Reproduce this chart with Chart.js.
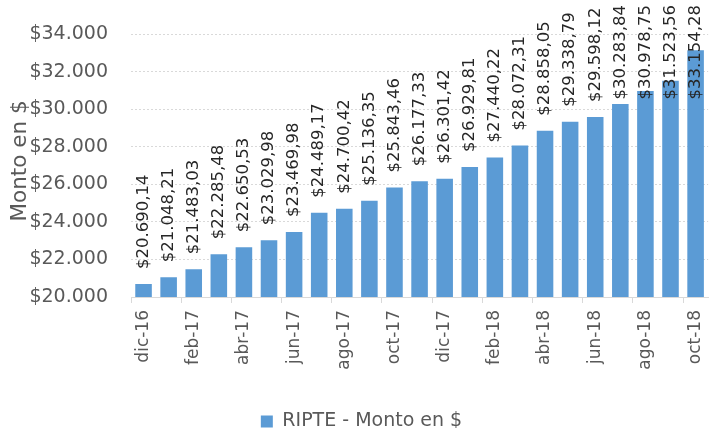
<!DOCTYPE html>
<html>
<head>
<meta charset="utf-8">
<script src="https://cdn.jsdelivr.net/npm/chart.js@4"></script>
<style>
  html, body { margin: 0; padding: 0; background: #fff; }
  #wrap { width: 723px; height: 428px; position: relative; }
</style>
</head>
<body>
<div id="wrap"><canvas id="ripteChart"></canvas></div>
<script>
const months = ["dic-16", "ene-17", "feb-17", "mar-17", "abr-17", "may-17", "jun-17", "jul-17",
    "ago-17", "sep-17", "oct-17", "nov-17", "dic-17", "ene-18", "feb-18", "mar-18",
    "abr-18", "may-18", "jun-18", "jul-18", "ago-18", "sep-18", "oct-18"];
const ripte = [20690.14, 21048.21, 21483.03, 22285.48, 22650.53, 23029.98, 23469.98, 24489.17,
    24700.42, 25136.35, 25843.46, 26177.33, 26301.42, 26929.81, 27440.22, 28072.31,
    28858.05, 29338.79, 29598.12, 30283.84, 30978.75, 31523.56, 33154.28];
const yTicks = [20000, 22000, 24000, 26000, 28000, 30000, 32000, 34000];

const FONT = "'DejaVu Sans', sans-serif";
const GRAY = "#595959";

function fmtMoney(v, dec) {
    const parts = v.toFixed(dec).split(".");
    const intPart = parts[0].replace(/\B(?=(\d{3})+(?!\d))/g, ".");
    return "$" + intPart + (dec ? "," + parts[1] : "");
}

// value labels, rotated, kept inside the canvas
const barLabels = {
    id: "barLabels",
    afterDatasetsDraw(chart) {
        const ctx = chart.ctx;
        const meta = chart.getDatasetMeta(0);
        ctx.save();
        ctx.font = "16.5px " + FONT;
        ctx.fillStyle = "#262626";
        ctx.textBaseline = "middle";
        ctx.textAlign = "left";
        meta.data.forEach((bar, i) => {
            const txt = fmtMoney(ripte[i], 2);
            const w = ctx.measureText(txt).width;
            let start = bar.y - 15;
            if (start - w < 5) start = 5 + w;
            ctx.save();
            ctx.translate(bar.x, start);
            ctx.rotate(-Math.PI / 2);
            ctx.fillText(txt, 0, 0);
            ctx.restore();
        });
        ctx.restore();
    }
};

// axis title drawn over the tick column like the original
const yTitle = {
    id: "yTitle",
    afterDraw(chart) {
        const ctx = chart.ctx;
        ctx.save();
        ctx.font = "21.5px " + FONT;
        ctx.fillStyle = GRAY;
        ctx.textAlign = "center";
        ctx.textBaseline = "middle";
        ctx.translate(20, 161);
        ctx.rotate(-Math.PI / 2);
        ctx.fillText("Monto en $", 0, 0);
        ctx.restore();
    }
};

new Chart(document.getElementById("ripteChart"), {
    type: "bar",
    data: {
        labels: months,
        datasets: [{
            label: "RIPTE - Monto en $",
            data: ripte,
            backgroundColor: "#5B9BD5",
            borderWidth: 0,
            categoryPercentage: 1,
            barPercentage: 0.66
        }]
    },
    options: {
        responsive: true,
        maintainAspectRatio: false,
        animation: false,
        layout: { padding: { top: 27, right: 0, left: 0, bottom: -13 } },
        plugins: {
            tooltip: { enabled: false },
            legend: {
                position: "bottom",
                labels: {
                    font: { family: FONT, size: 19 },
                    color: GRAY,
                    boxWidth: 12,
                    boxHeight: 12,
                    padding: 1
                }
            }
        },
        scales: {
            x: {
                offset: true,
                afterFit: axis => { axis.height = 114; },
                grid: {
                    offset: true,
                    drawOnChartArea: false,
                    tickLength: 6,
                    tickColor: c => (c.index % 2 === 0 ? "#d9d9d9" : "rgba(0,0,0,0)")
                },
                border: { color: "#d9d9d9" },
                ticks: {
                    autoSkip: false,
                    minRotation: 90,
                    maxRotation: 90,
                    padding: 7,
                    color: GRAY,
                    font: { family: FONT, size: 17 },
                    callback: (v, i) => (i % 2 === 0 ? months[i] : "")
                }
            },
            y: {
                min: 20000,
                max: 34000,
                afterBuildTicks: axis => { axis.ticks = yTicks.map(v => ({ value: v })); },
                afterFit: axis => { axis.width = 131; },
                border: { display: false, dash: [2, 2] },
                grid: { color: "#d9d9d9", drawTicks: false },
                ticks: {
                    padding: 23,
                    color: GRAY,
                    font: { family: FONT, size: 19 },
                    callback: v => fmtMoney(v, 0)
                }
            }
        }
    },
    plugins: [barLabels, yTitle]
});
</script>
</body>
</html>
